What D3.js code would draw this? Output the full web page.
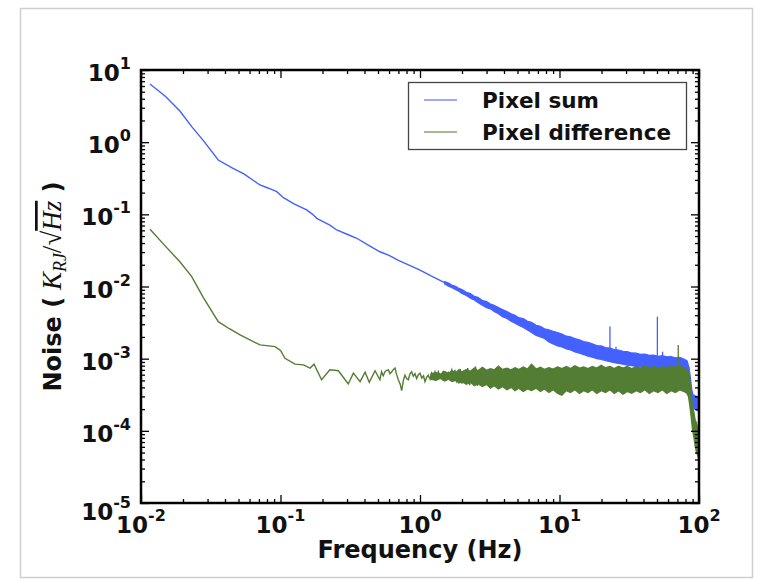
<!DOCTYPE html>
<html>
<head>
<meta charset="utf-8">
<script src="https://cdn.jsdelivr.net/npm/d3@7"></script>
<style>
    body { margin: 0; background: #fff; }
    text { font-family: "DejaVu Sans", sans-serif; font-weight: bold; fill: #111; }
</style>
</head>
<body>
<svg id="chart" width="758" height="581"></svg>
<script>

// pixel sum: smooth part of the trace (Hz, K/sqrt(Hz))
var sumFreq = [0.0116, 0.0150, 0.0190, 0.0231, 0.0280, 0.0358, 0.0450, 0.0550, 0.0713, 0.0820,
    0.094, 0.105, 0.125, 0.154, 0.170, 0.182, 0.205, 0.226, 0.253, 0.30,
    0.352, 0.42, 0.516, 0.60, 0.70, 0.85, 1.0, 1.2, 1.5];
var sumNoise = [6.4, 4.3, 2.7, 1.64, 1.05, 0.566, 0.44, 0.36, 0.255, 0.23,
    0.206, 0.17, 0.14, 0.115, 0.100, 0.088, 0.078, 0.071, 0.0607, 0.053,
    0.0466, 0.038, 0.0303, 0.027, 0.023, 0.0195, 0.0169, 0.0140, 0.0113];

// pixel sum: dense noisy part, read as [Hz, lower edge, upper edge]
var sumBand = [
    [1.5, 0.0109, 0.0117], [1.6, 0.0101, 0.0112], [1.7, 0.0096, 0.0104], [1.8, 0.0090, 0.0101],
    [1.9, 0.0086, 0.0094], [2.0, 0.0080, 0.0091], [2.15, 0.0075, 0.0083], [2.3, 0.0069, 0.0080],
    [2.45, 0.0065, 0.0073], [2.6, 0.0060, 0.0071], [2.8, 0.0055, 0.0064], [3.0, 0.0051, 0.0062],
    [3.2, 0.0049, 0.0057], [3.4, 0.0045, 0.0055], [3.65, 0.0042, 0.0051], [3.9, 0.0038, 0.0048],
    [4.2, 0.0036, 0.0045], [4.5, 0.0033, 0.0042], [4.8, 0.0031, 0.0040], [5.1, 0.0029, 0.0037],
    [5.5, 0.0027, 0.0036], [5.9, 0.0025, 0.0033], [6.3, 0.0023, 0.0032], [6.8, 0.0021, 0.0029],
    [7.3, 0.0020, 0.0028], [7.8, 0.0019, 0.0026], [8.4, 0.0017, 0.0025], [9.0, 0.0016, 0.0024],
    [9.7, 0.0015, 0.0023], [10.4, 0.00145, 0.0022], [11.2, 0.00136, 0.00205], [12.0, 0.00132, 0.00200],
    [12.9, 0.00124, 0.00190], [13.9, 0.00119, 0.00182], [14.9, 0.00114, 0.00172], [16.0, 0.00108, 0.00168],
    [17.2, 0.00105, 0.00160], [18.5, 0.00100, 0.00152], [19.9, 0.00098, 0.00150], [21.4, 0.00094, 0.00142],
    [23.0, 0.00091, 0.00140], [24.7, 0.00088, 0.00134], [26.5, 0.00086, 0.00132], [28.5, 0.00084, 0.00126],
    [30.6, 0.00081, 0.00125], [32.9, 0.00080, 0.00120], [35.4, 0.00078, 0.00119], [38.0, 0.00077, 0.00115],
    [40.9, 0.00076, 0.00116], [44.0, 0.00074, 0.00111], [47.3, 0.00074, 0.00112], [50.8, 0.00072, 0.00108],
    [54.6, 0.00072, 0.00110], [58.7, 0.00071, 0.00106], [63.1, 0.00070, 0.00107], [67.8, 0.00069, 0.00103],
    [72.9, 0.00068, 0.00104], [78.3, 0.00066, 0.00098], [82, 0.00061, 0.00094], [85, 0.00046, 0.00074],
    [87, 0.00034, 0.00052], [89, 0.00025, 0.00036], [91, 0.00021, 0.00031], [93, 0.00020, 0.00031],
    [95, 0.00020, 0.00030], [97, 0.00019, 0.00030], [99.5, 0.00019, 0.00029]
];

// pixel sum: narrow lines [Hz, base, top]
var sumSpikes = [[23.0, 0.0011, 0.0028], [25.4, 0.0011, 0.00146], [50.3, 0.0009, 0.0038], [54.8, 0.0009, 0.00125]];

// pixel difference: trace up to the dense part
var diffFreq = [0.0116, 0.0150, 0.0190, 0.0231, 0.0280, 0.0358, 0.0430, 0.0513, 0.0713, 0.0914,
    0.100, 0.1077, 0.127, 0.146, 0.163, 0.174, 0.197, 0.226, 0.26, 0.306,
    0.333, 0.372, 0.404, 0.433, 0.476, 0.516, 0.530, 0.545, 0.561, 0.577,
    0.593, 0.610, 0.627, 0.645, 0.662, 0.680, 0.699, 0.719, 0.739, 0.760,
    0.780, 0.802, 0.824, 0.847, 0.871, 0.895, 0.920, 0.946, 0.972, 1.000,
    1.030, 1.060, 1.086, 1.115, 1.147, 1.180, 1.210, 1.245, 1.280, 1.315,
    1.353, 1.390, 1.430, 1.470, 1.510, 1.550, 1.600, 1.640, 1.690, 1.740,
    1.780, 1.830, 1.880, 1.940, 2.00, 2.06, 2.12, 2.20, 2.27, 2.34,
    2.42, 2.50, 2.58, 2.66];
var diffNoise = [0.062, 0.036, 0.022, 0.0137, 0.0070, 0.00326, 0.0026, 0.00213, 0.00155, 0.00147,
    0.00130, 0.00101, 0.00084, 0.00082, 0.00074, 0.00084, 0.00051, 0.00070, 0.00068, 0.000446,
    0.00063, 0.00048, 0.00065, 0.00047, 0.00068, 0.00051, 0.00066, 0.00058, 0.00066, 0.00069,
    0.00070, 0.00062, 0.00066, 0.00071, 0.00074, 0.00060, 0.00051, 0.00045, 0.00036, 0.00050,
    0.00059, 0.00053, 0.00051, 0.00061, 0.00066, 0.00057, 0.00062, 0.00053, 0.00060, 0.00063,
    0.00054, 0.00058, 0.00048, 0.00055, 0.00059, 0.00052, 0.00063, 0.00056, 0.00066, 0.00054,
    0.00066, 0.00058, 0.00061, 0.00067, 0.00066, 0.00052, 0.00064, 0.00059, 0.00070, 0.00055,
    0.00070, 0.00049, 0.00056, 0.00072, 0.00045, 0.00068, 0.00050, 0.00074, 0.00043, 0.00066,
    0.00048, 0.00078, 0.00042, 0.00070];

// pixel difference: dense part [Hz, lower edge, upper edge]
var diffBand = [
    [1.2, 0.00052, 0.00062], [1.3, 0.00050, 0.00064], [1.4, 0.00053, 0.00061], [1.5, 0.00049, 0.00066],
    [1.6, 0.00052, 0.00063], [1.7, 0.00048, 0.00068], [1.8, 0.00050, 0.00064], [1.9, 0.00046, 0.00070],
    [2.0, 0.00048, 0.00066], [2.15, 0.00044, 0.00071], [2.3, 0.00047, 0.00067], [2.45, 0.00042, 0.00074],
    [2.6, 0.00045, 0.00068], [2.8, 0.00041, 0.00076], [3.0, 0.00044, 0.00069], [3.2, 0.00039, 0.00073],
    [3.4, 0.00042, 0.00070], [3.65, 0.00038, 0.00079], [3.9, 0.00041, 0.00071], [4.2, 0.00037, 0.00074],
    [4.5, 0.00040, 0.00070], [4.8, 0.00036, 0.00075], [5.1, 0.00039, 0.00071], [5.5, 0.00035, 0.00077],
    [5.9, 0.00038, 0.00072], [6.3, 0.00036, 0.00084], [6.8, 0.00039, 0.00072], [7.3, 0.00035, 0.00076],
    [7.8, 0.00038, 0.00071], [8.4, 0.00034, 0.00075], [9.0, 0.00037, 0.00072], [9.7, 0.00033, 0.00077],
    [10.4, 0.00031, 0.00073], [11.2, 0.00036, 0.00078], [12.0, 0.00034, 0.00073], [12.9, 0.00037, 0.00080],
    [13.9, 0.00033, 0.00074], [14.9, 0.00036, 0.00077], [16.0, 0.00034, 0.00073], [17.2, 0.00037, 0.00078],
    [18.5, 0.00033, 0.00074], [19.9, 0.00036, 0.00081], [21.4, 0.00034, 0.00075], [23.0, 0.00037, 0.00078],
    [24.7, 0.00033, 0.00073], [26.5, 0.00036, 0.00079], [28.5, 0.00032, 0.00074], [30.6, 0.00035, 0.00078],
    [32.9, 0.00033, 0.00073], [35.4, 0.00036, 0.00077], [38.0, 0.00034, 0.00074], [40.9, 0.00037, 0.00080],
    [44.0, 0.00033, 0.00074], [47.3, 0.00036, 0.00078], [50.8, 0.00034, 0.00073], [54.6, 0.00037, 0.00077],
    [58.7, 0.00033, 0.00075], [63.1, 0.00036, 0.00079], [67.8, 0.00034, 0.00076], [72.9, 0.00037, 0.00080],
    [78.3, 0.00035, 0.00074], [82, 0.00033, 0.00070], [84, 0.00030, 0.00064], [86, 0.00022, 0.00050],
    [88, 0.00015, 0.00032], [90, 0.00010, 0.00022], [92, 0.00008, 0.00018], [94, 0.00006, 0.00014],
    [96, 0.00005, 0.00013], [98, 0.000045, 0.00011], [99.5, 0.00004, 0.00010]
];

var diffSpikes = [[71, 0.0007, 0.00155]];

var xTickExponents = [-2, -1, 0, 1, 2];
var yTickExponents = [-5, -4, -3, -2, -1, 0, 1];
var legendLabels = ["Pixel sum", "Pixel difference"];

var sumColor = "#4460ff";
var diffColor = "#537d33";

var margin = {top: 70, left: 141, width: 558, height: 433};

var svg = d3.select("#chart");

// light screenshot border round the figure
svg.append("rect")
    .attr("x", 20.5).attr("y", 8.5)
    .attr("width", 732).attr("height", 569)
    .attr("fill", "#fff")
    .attr("stroke", "#cfcfcf")
    .attr("stroke-width", 1.5);

var x = d3.scaleLog().domain([0.01, 100]).range([margin.left, margin.left + margin.width]);
var y = d3.scaleLog().domain([1e-5, 10]).range([margin.top + margin.height, margin.top]);

svg.append("clipPath").attr("id", "plotClip")
    .append("rect")
    .attr("x", margin.left).attr("y", margin.top)
    .attr("width", margin.width).attr("height", margin.height);

var plot = svg.append("g").attr("clip-path", "url(#plotClip)");

var line = d3.line()
    .x(function (d) { return x(d[0]); })
    .y(function (d) { return y(d[1]); });

var band = d3.area()
    .x(function (d) { return x(d[0]); })
    .y0(function (d) { return y(d[1]); })
    .y1(function (d) { return y(d[2]); });

function drawSeries(freq, values, bandRows, spikes, color) {
    plot.append("path")
        .attr("d", line(d3.zip(freq, values)))
        .attr("fill", "none")
        .attr("stroke", color)
        .attr("stroke-width", 1.4);

    plot.append("path")
        .attr("d", band(bandRows))
        .attr("fill", color)
        .attr("stroke", color)
        .attr("stroke-width", 1.2)
        .attr("stroke-linejoin", "miter");

    spikes.forEach(function (s) {
        plot.append("line")
            .attr("x1", x(s[0])).attr("x2", x(s[0]))
            .attr("y1", y(s[1])).attr("y2", y(s[2]))
            .attr("stroke", color)
            .attr("stroke-width", 1.3);
    });
}

drawSeries(sumFreq, sumNoise, sumBand, sumSpikes, sumColor);
drawSeries(diffFreq, diffNoise, diffBand, diffSpikes, diffColor);

// ticks on all four sides, pointing inwards
function addTicks(axisFn, scale, transform, values, size) {
    svg.append("g")
        .attr("transform", transform)
        .call(axisFn(scale).tickValues(values).tickSize(size).tickFormat(""))
        .call(function (g) {
            g.select(".domain").remove();
            g.selectAll("line").attr("stroke", "#000").attr("stroke-width", 1.3);
        });
}

var xMajor = xTickExponents.map(function (e) { return Math.pow(10, e); });
var yMajor = yTickExponents.map(function (e) { return Math.pow(10, e); });
var xMinor = x.ticks().filter(function (v) { return xMajor.indexOf(v) < 0; });
var yMinor = y.ticks().filter(function (v) { return yMajor.indexOf(v) < 0; });

var bottom = margin.top + margin.height;
var right = margin.left + margin.width;

addTicks(d3.axisBottom, x, "translate(0," + bottom + ")", xMajor, -8);
addTicks(d3.axisBottom, x, "translate(0," + bottom + ")", xMinor, -4);
addTicks(d3.axisTop, x, "translate(0," + margin.top + ")", xMajor, -8);
addTicks(d3.axisTop, x, "translate(0," + margin.top + ")", xMinor, -4);
addTicks(d3.axisLeft, y, "translate(" + margin.left + ",0)", yMajor, -8);
addTicks(d3.axisLeft, y, "translate(" + margin.left + ",0)", yMinor, -4);
addTicks(d3.axisRight, y, "translate(" + right + ",0)", yMajor, -8);
addTicks(d3.axisRight, y, "translate(" + right + ",0)", yMinor, -4);

svg.append("rect")
    .attr("x", margin.left).attr("y", margin.top)
    .attr("width", margin.width).attr("height", margin.height)
    .attr("fill", "none")
    .attr("stroke", "#000")
    .attr("stroke-width", 2.5);

// tick labels as 10 with a superscript
function powerLabel(sel, exp) {
    sel.append("tspan").attr("font-size", 23).text("10");
    sel.append("tspan").attr("font-size", 16).attr("dy", -12).text(exp);
}

xTickExponents.forEach(function (e) {
    var t = svg.append("text")
        .attr("x", x(Math.pow(10, e)))
        .attr("y", 533)
        .attr("text-anchor", "middle");
    powerLabel(t, e);
});

yTickExponents.forEach(function (e) {
    var t = svg.append("text")
        .attr("x", 131)
        .attr("y", y(Math.pow(10, e)) + (e === -5 ? 17 : 11))
        .attr("text-anchor", "end");
    powerLabel(t, e);
});

// axis titles
svg.append("text")
    .attr("x", margin.left + margin.width / 2)
    .attr("y", 558)
    .attr("text-anchor", "middle")
    .attr("font-size", 24)
    .text("Frequency (Hz)");

var yTitle = svg.append("text")
    .attr("transform", "translate(61," + (margin.top + margin.height / 2) + ") rotate(-90)")
    .attr("text-anchor", "middle")
    .attr("font-size", 24);
yTitle.append("tspan").text("Noise (");
yTitle.append("tspan")
    .style("font-family", "'Liberation Serif', serif")
    .style("font-style", "italic")
    .style("font-weight", "normal")
    .attr("font-size", 27)
    .text(" K");
yTitle.append("tspan")
    .style("font-family", "'Liberation Serif', serif")
    .style("font-style", "italic")
    .style("font-weight", "normal")
    .attr("font-size", 18)
    .attr("dy", 5)
    .text("RJ");
yTitle.append("tspan")
    .style("font-family", "'Liberation Serif', serif")
    .style("font-weight", "normal")
    .attr("font-size", 27)
    .attr("dy", -5)
    .text("/\u221A");
yTitle.append("tspan")
    .style("font-family", "'Liberation Serif', serif")
    .style("font-style", "italic")
    .style("font-weight", "normal")
    .style("text-decoration", "overline")
    .attr("font-size", 27)
    .text("Hz");
yTitle.append("tspan").text(" )");

// legend
var legend = svg.append("g");
legend.append("rect")
    .attr("x", 408.5).attr("y", 82.5)
    .attr("width", 278).attr("height", 67)
    .attr("fill", "#fff")
    .attr("stroke", "#444")
    .attr("stroke-width", 1.3);

[sumColor, diffColor].forEach(function (c, i) {
    var rowY = 100 + i * 32;
    legend.append("line")
        .attr("x1", 424).attr("x2", 457)
        .attr("y1", rowY).attr("y2", rowY)
        .attr("stroke", c)
        .attr("stroke-opacity", 0.7)
        .attr("stroke-width", 1.5);
    legend.append("text")
        .attr("x", 482)
        .attr("y", rowY + 8)
        .attr("font-size", 21.5)
        .text(legendLabels[i]);
});

</script>
</body>
</html>
